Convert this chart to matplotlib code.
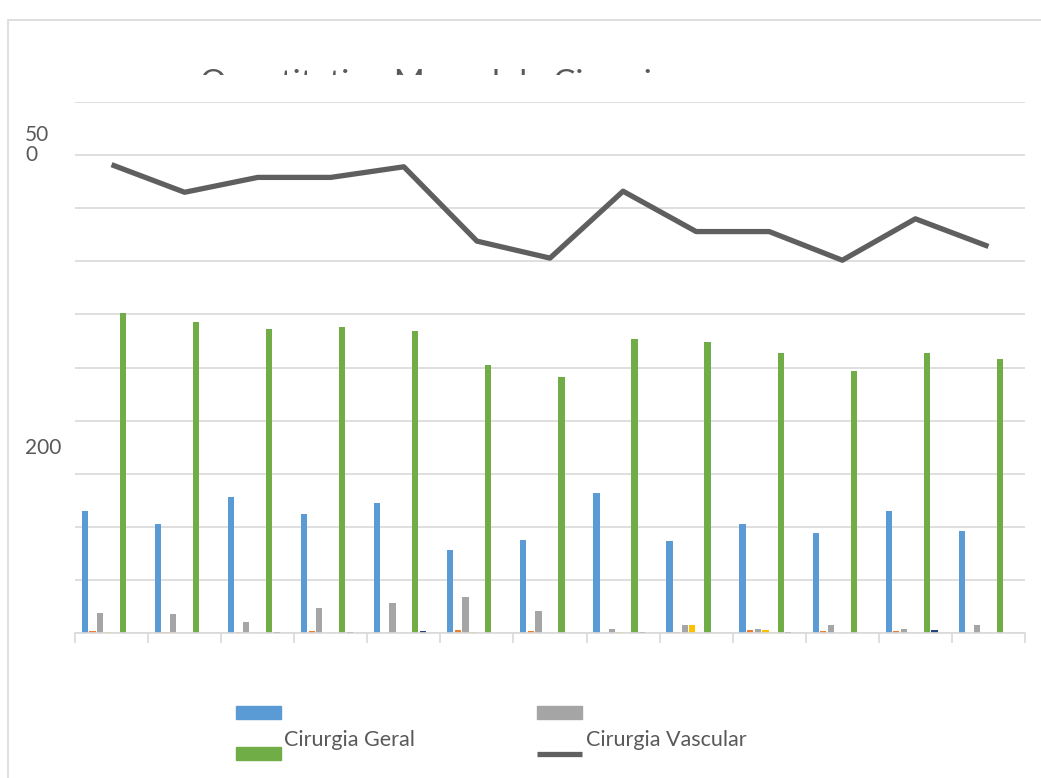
import matplotlib.pyplot as plt
import numpy as np
from matplotlib.patches import Rectangle
from matplotlib.lines import Line2D
from matplotlib.transforms import Bbox, TransformedBbox

plt.rcParams['font.family'] = ['Lato', 'DejaVu Sans']

# 13 meses
meses = list(range(1, 14))

# series de barras (ordem do Excel)
serie1 = [115, 103, 128, 112, 122, 78, 88, 132, 87, 103, 94, 115, 96]
serie2 = [1.5, 0.5, 0.5, 1.5, 0, 2.5, 1.5, 0, 0.5, 2.5, 1.5, 1.5, 0]
serie3 = [19, 18, 10.5, 23.5, 28, 34, 20.5, 4, 8, 4, 7.5, 4, 7.5]
serie4 = [0.5, 0, 0, 0, 0, 0.5, 0, 0.5, 8, 3, 0, 0, 0]
serie5 = [0, 0, 0, 0, 0, 0, 0, 0, 0, 0, 0, 0, 0]
cir_geral = [301, 293, 286, 288, 284, 252, 241, 277, 274, 264, 247, 264, 258]
serie7 = [0, 0, 0.5, 0.5, 1.5, 0, 0, 0.5, 0, 0.5, 0, 2.5, 0]
serie8 = [0, 0, 0, 0, 0, 0, 0, 0, 0, 0, 0, 0, 0]
cir_vascular = [441, 415, 429, 429, 439, 369, 353, 416, 378, 378, 351, 390, 364]

barras = [serie1, serie2, serie3, serie4, serie5, cir_geral, serie7, serie8]
cores = ['#5B9BD5', '#ED7D31', '#A5A5A5', '#FFC000', '#4472C4', '#70AD47', '#264478', '#9E480E']

W, H = 1041, 778
fig = plt.figure(figsize=(W/100, H/100), dpi=100)
ax = fig.add_axes([75/W, 1-633/H, 950/W, 531/H])

x = np.arange(len(meses))
grupo = 0.834
slot = grupo/len(barras)
for k, (vals, c) in enumerate(zip(barras, cores)):
    ax.bar(x - grupo/2 + (k+0.5)*slot, vals, width=slot*0.82, color=c, zorder=2)

ax.plot(x, cir_vascular, color='#5f5f5f', lw=3.8, zorder=3, solid_capstyle='butt')

ax.set_xlim(-0.5, len(meses)-0.5)
ax.set_ylim(0, 500)
ax.set_yticks(np.arange(0, 501, 50), minor=True)
ax.grid(axis='y', which='minor', color='#d9d9d9', lw=1.2, zorder=0)
ax.tick_params(axis='y', which='minor', length=0)
# rotulos do eixo y como aparecem no original
ax.set_yticks([461, 176], labels=['50\n0', '200'])
ax.tick_params(axis='y', which='major', length=0, pad=36, labelsize=15, labelcolor='#595959')
for t in ax.get_yticklabels():
    t.set_ha('left')
    t.set_linespacing(1.0)

ax.set_xticks([])
ax.set_xticks(np.arange(-0.5, len(meses)), minor=True)
ax.tick_params(axis='x', which='minor', length=7, width=1.2, color='#d9d9d9', labelbottom=False)
for s in ['top', 'right', 'left']:
    ax.spines[s].set_visible(False)
ax.spines['bottom'].set_color('#d9d9d9')
ax.spines['bottom'].set_linewidth(1.2)

# borda da area do grafico (cortada)
fig.add_artist(Rectangle((8/W, -0.1), 1.2, 1.1 - 20/H, transform=fig.transFigure,
                         fill=False, edgecolor='#d9d9d9', lw=1.2))

# titulo cortado
tit = fig.text(200/W, 1-93/H, 'Quantitativo Mensal de Cirurgias', fontsize=24,
               color='#595959', ha='left', va='baseline')
tit.set_clip_on(True)
tit.set_clip_box(TransformedBbox(Bbox([[0, 1-75/H], [1, 1]]), fig.transFigure))

# legenda
def fx(px):
    return px/W

def fy(py):
    return 1-py/H

fig.add_artist(Rectangle((fx(236), fy(719)), 45/W, 13/H, transform=fig.transFigure, color=cores[0]))
fig.add_artist(Rectangle((fx(537), fy(719)), 45/W, 13/H, transform=fig.transFigure, color=cores[2]))
fig.add_artist(Rectangle((fx(236), fy(760)), 45/W, 13/H, transform=fig.transFigure, color=cores[5]))
fig.add_artist(Line2D([fx(537), fx(582)], [fy(754), fy(754)], transform=fig.transFigure,
                      color='#5f5f5f', lw=3.8, solid_capstyle='butt'))
fig.text(fx(284), fy(740), 'Cirurgia Geral', fontsize=15.5, color='#595959', va='center')
fig.text(fx(586), fy(740), 'Cirurgia Vascular', fontsize=15.5, color='#595959', va='center')

fig.savefig('out.png', dpi=100)
